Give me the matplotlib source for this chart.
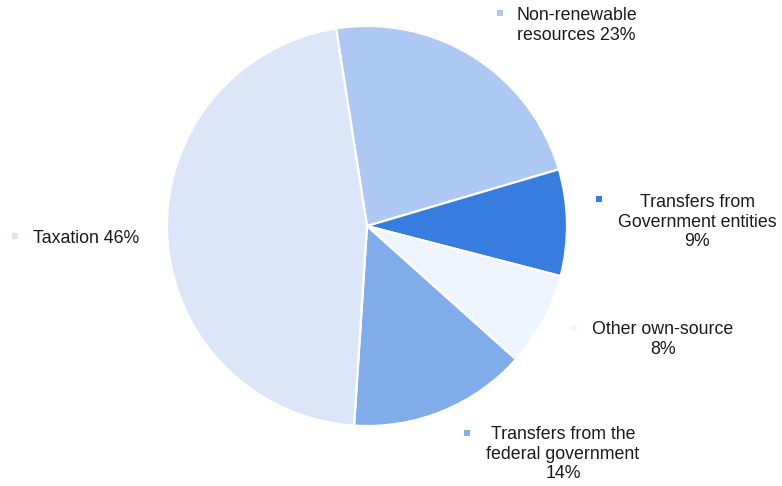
import matplotlib
matplotlib.use("Agg")
import matplotlib.pyplot as plt
from matplotlib.patches import Rectangle

plt.rcParams['font.family'] = ['Liberation Sans', 'DejaVu Sans']

categories = ["Non-renewable\nresources", "Transfers from\nGovernment entities",
              "Other own-source", "Transfers from the\nfederal government", "Taxation"]
values = [22.9, 8.6, 7.6, 14.4, 46.5]
pct_labels = ["23%", "9%", "8%", "14%", "46%"]
colors = ["#adc8f2", "#377ddf", "#eef5fe", "#81acea", "#dbe7f9"]

W, H = 782, 486
fig = plt.figure(figsize=(W / 100, H / 100), dpi=100)
cx, cy, r = 367, 226, 200
ax = fig.add_axes([(cx - r) / W, (H - cy - r) / H, 2 * r / W, 2 * r / H])
ax.pie(values, colors=colors, startangle=98.9, counterclock=False,
       wedgeprops=dict(edgecolor="white", linewidth=1.6), radius=1)
ax.set_xlim(-1, 1)
ax.set_ylim(-1, 1)
ax.axis("off")

fs = 12.8

def px(x, y):
    return x / W, 1 - y / H

def marker(x, y, color):
    s = 6
    fig.patches.append(Rectangle(((x - s / 2) / W, 1 - (y + s / 2) / H), s / W, s / H,
                                 transform=fig.transFigure, facecolor=color, edgecolor="none"))

# label layout: (marker x, marker y, text x, text top y, ha)
layout = [
    (500, 13, 517, 7, "left"),
    (599, 199, 697, 194, "center"),
    (574, 328, 663, 321, "center"),
    (467, 433, 563, 426, "center"),
    (15, 236, 33, 230, "left"),
]

for (mx, my, tx, ty, ha), cat, pct, col in zip(layout, categories, pct_labels, colors):
    marker(mx, my, col)
    if cat.startswith("Non-renewable") or cat == "Taxation":
        txt = f"{cat} {pct}"
    else:
        txt = f"{cat}\n{pct}"
    fig.text(*px(tx, ty), txt, ha=ha, va="top", fontsize=fs, color="#1a1a1a",
             linespacing=1.2, multialignment=ha)

fig.savefig("out.png", dpi=100)
